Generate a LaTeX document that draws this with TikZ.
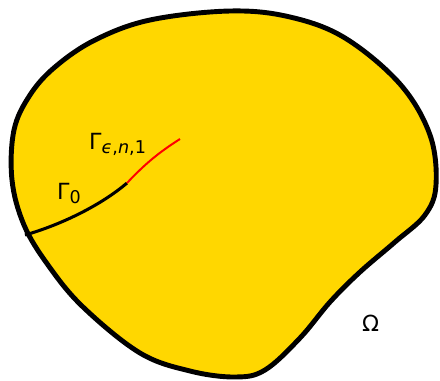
\documentclass[tikz,border=0pt]{standalone}
\usepackage{fontspec}
\setmainfont{DejaVu Sans}
\usepackage{tikz}
\definecolor{domainfill}{HTML}{FFD700}
\definecolor{crackred}{HTML}{FF0000}
\tikzset{
  region/.style={draw=black, line width=4.2pt, fill=domainfill, line join=round},
  crackold/.style={draw=black, line width=2.6pt},
  cracknew/.style={draw=crackred, line width=1.7pt},
  lbl/.style={font=\fontsize{19}{21}\selectfont, inner sep=0pt},
}
\begin{document}
\begin{tikzpicture}[x=0.03cm, y=-0.03cm]
  \useasboundingbox (0,0) rectangle (440,380);

  % region
  \draw[region] plot[smooth cycle, tension=0.6] coordinates {
    (230,11) (290,17) (345,38) (400,84) (430,135) (436,185) (425,215)
    (395,242) (360,272) (330,302) (300,338) (265,370) (235,377) (190,371)
    (140,353) (83,307) (48,265) (24,225) (12,180) (14,130) (30,95)
    (55,67) (95,40) (150,20)};

  % crack
  \coordinate (tip0) at (25,235);
  \coordinate (tip1) at (127,183);
  \coordinate (tip2) at (180,139);
  \draw[crackold] (tip0) .. controls (60,225) and (100,206) .. (tip1);
  \draw[cracknew] (tip1) .. controls (145,164) and (158,153) .. (tip2);

  % labels
  \node[lbl, anchor=base west] (gammaeps) at (89,149) {Γ\raisebox{-0.4ex}{\fontsize{15}{16}\selectfont\textit{ϵ},\textit{n},1}};
  \node[lbl, anchor=base west] (gammazero) at (57,199) {Γ\raisebox{-0.4ex}{\fontsize{15}{16}\selectfont 0}};
  \node[lbl, anchor=base west] (omega) at (362,331) {Ω};
\end{tikzpicture}
\end{document}
